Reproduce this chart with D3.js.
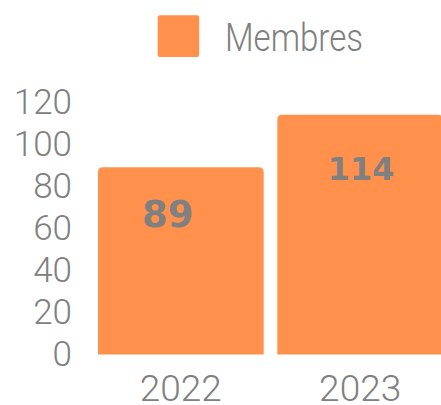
<!DOCTYPE html>
<html>
<head>
<meta charset="utf-8">
<script src="https://cdn.jsdelivr.net/npm/d3@7"></script>
<style>
  body { margin: 0; background: #fff; }
  svg { display: block; }
  .axis text { font-family: Roboto, sans-serif; font-weight: 300; fill: #808080; }
</style>
</head>
<body>
<div id="chart"></div>
<script>
const years = ['2022', '2023'];
const members = [89, 114];
const yTicks = [0, 20, 40, 60, 80, 100, 120];
const seriesName = 'Membres';

// label tweaks per bar
const labelSize = [37, 32];
const labelDx = [-13, 1];
const labelDy = [46, 54];

const W = 441, H = 405;
const orange = '#ff914d';
const grey = '#808080';

const svg = d3.select('#chart').append('svg')
    .attr('width', W)
    .attr('height', H);

const x = d3.scaleBand().domain(years).range([98, 443]).paddingInner(0.076).paddingOuter(0);
const y = d3.scaleLinear().domain([0, 120]).range([354.5, 102.1]);

// bars with rounded top corners
function barPath(x0, y0, w, h, r) {
    return `M${x0},${y0 + h}V${y0 + r}Q${x0},${y0} ${x0 + r},${y0}H${x0 + w - r}Q${x0 + w},${y0} ${x0 + w},${y0 + r}V${y0 + h}Z`;
}

svg.selectAll('.bar')
    .data(members)
    .enter().append('path')
    .attr('class', 'bar')
    .attr('d', (d, i) => barPath(x(years[i]), y(d), x.bandwidth(), y(0) - y(d), 5))
    .style('fill', orange);

// value labels
svg.selectAll('.val')
    .data(members)
    .enter().append('text')
    .attr('class', 'val')
    .attr('x', (d, i) => x(years[i]) + x.bandwidth() / 2 + labelDx[i])
    .attr('y', (d, i) => y(d) + labelDy[i])
    .attr('dy', '0.36em')
    .attr('text-anchor', 'middle')
    .style('font-family', '"DejaVu Sans", sans-serif')
    .style('font-weight', 'bold')
    .style('font-size', (d, i) => labelSize[i] + 'px')
    .style('fill', grey)
    .text(d => d);

// y axis
const yAxis = svg.append('g')
    .attr('class', 'axis')
    .attr('transform', 'translate(72,0)')
    .call(d3.axisLeft(y).tickValues(yTicks).tickSize(0).tickPadding(0));
yAxis.select('.domain').remove();
yAxis.selectAll('text').style('font-size', '35px');

// x axis
const xAxis = svg.append('g')
    .attr('class', 'axis')
    .attr('transform', `translate(0,${y(0)})`)
    .call(d3.axisBottom(x).tickSize(0).tickPadding(20));
xAxis.select('.domain').remove();
xAxis.selectAll('text').style('font-size', '37px');

// legend
const legend = svg.append('g').attr('class', 'legend');
legend.append('rect')
    .attr('x', 157.7)
    .attr('y', 15.3)
    .attr('width', 41.5)
    .attr('height', 41.7)
    .attr('rx', 2)
    .style('fill', orange);
legend.append('text')
    .attr('x', 225)
    .attr('y', 51)
    .attr('textLength', 138)
    .attr('lengthAdjust', 'spacingAndGlyphs')
    .style('font-family', 'Roboto, sans-serif')
    .style('font-weight', 300)
    .style('font-size', '38px')
    .style('fill', grey)
    .text(seriesName);
</script>
</body>
</html>
